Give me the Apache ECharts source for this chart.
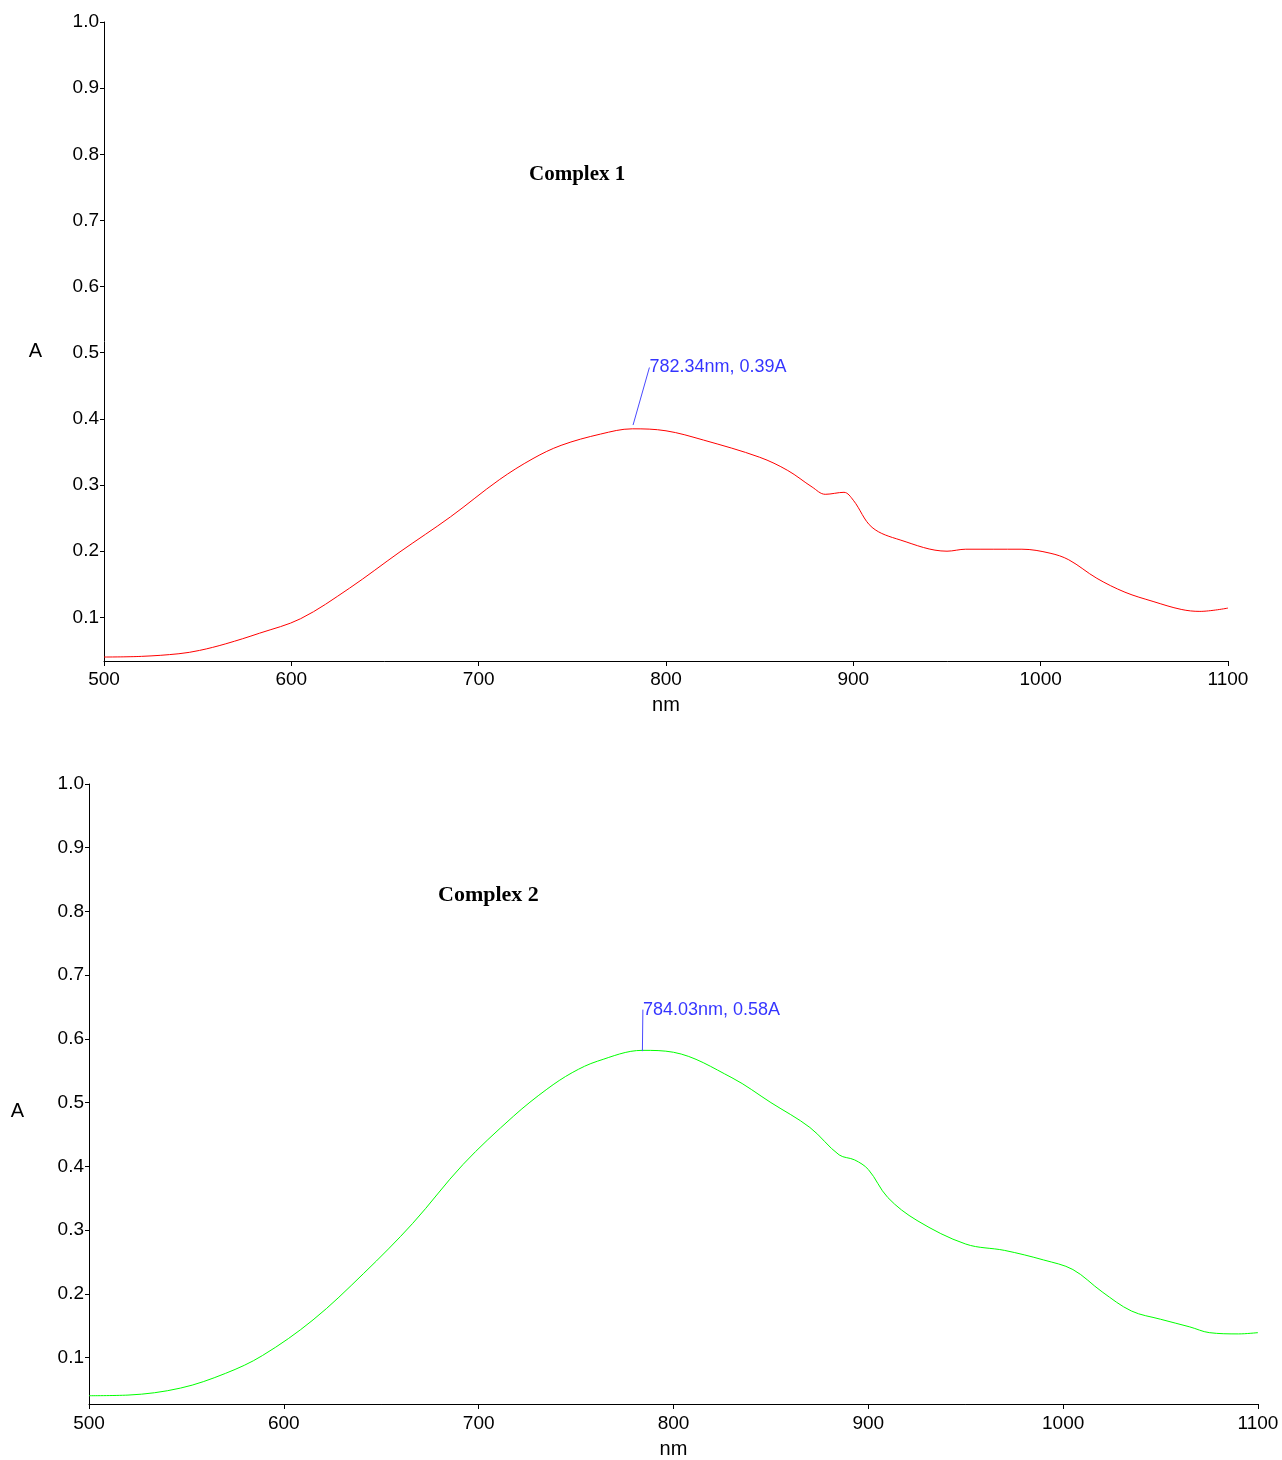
<!DOCTYPE html>
<html>
<head>
<meta charset="utf-8">
<script src="https://cdn.jsdelivr.net/npm/echarts@6/dist/echarts.min.js"></script>
<style>
  html, body { margin: 0; padding: 0; background: #fff; }
  #main { width: 1282px; height: 1460px; }
</style>
</head>
<body>
<div id="main"></div>
<script>
// Complex 1 (red) spectrum
var wave1 = [500, 520, 540, 551, 565, 583, 605, 631, 658, 685, 711, 729, 744, 765, 782, 800, 820, 850, 865, 878, 885, 895, 900, 910, 925, 950, 960, 990, 1005, 1015, 1030, 1045, 1060, 1075, 1085, 1100];
var abs1 = [0.040, 0.041, 0.045, 0.050, 0.060, 0.076, 0.098, 0.144, 0.199, 0.252, 0.308, 0.340, 0.360, 0.377, 0.385, 0.382, 0.368, 0.342, 0.322, 0.297, 0.286, 0.289, 0.277, 0.236, 0.217, 0.200, 0.203, 0.203, 0.197, 0.187, 0.159, 0.138, 0.124, 0.112, 0.109, 0.114];

// Complex 2 (green) spectrum
var wave2 = [500, 520, 547, 570, 589, 615, 641, 666, 692, 718, 735, 748, 761, 784, 800, 830, 850, 870, 885, 893, 900, 910, 925, 950, 970, 990, 1005, 1020, 1035, 1050, 1065, 1075, 1090, 1100];
var abs2 = [0.040, 0.041, 0.052, 0.075, 0.103, 0.159, 0.232, 0.310, 0.403, 0.479, 0.521, 0.547, 0.565, 0.582, 0.579, 0.539, 0.500, 0.461, 0.418, 0.410, 0.395, 0.351, 0.315, 0.278, 0.268, 0.253, 0.238, 0.203, 0.173, 0.160, 0.148, 0.139, 0.137, 0.139];

// peak annotations
var peak1 = [782.34, 0.39];
var peak2 = [784.03, 0.58];
var yTicks = [0.1, 0.2, 0.3, 0.4, 0.5, 0.6, 0.7, 0.8, 0.9, 1.0];

var chart = echarts.init(document.getElementById('main'));
var sans = '"Liberation Sans", Arial, sans-serif';
var serif = '"Liberation Serif", "Times New Roman", serif';

function mkX(idx, margin, gap) {
  return {
    type: 'value',
    gridIndex: idx,
    min: 500,
    max: 1100,
    interval: 100,
    name: 'nm',
    nameLocation: 'middle',
    nameGap: gap,
    nameTextStyle: { fontFamily: sans, fontSize: 20, color: '#000' },
    axisLine: { lineStyle: { color: '#000', width: 1 } },
    axisTick: { show: true, inside: false, length: 5, lineStyle: { color: '#000' } },
    axisLabel: {
      fontFamily: sans, fontSize: 19, color: '#000', margin: margin,
      formatter: function (v) { return String(v); }
    },
    splitLine: { show: false }
  };
}

function mkY(idx, min, gap, padTop) {
  return {
    type: 'value',
    gridIndex: idx,
    min: min,
    max: 1.0,
    name: 'A',
    nameLocation: 'middle',
    nameRotate: 0,
    nameGap: gap,
    nameTextStyle: { fontFamily: sans, fontSize: 20, color: '#000', verticalAlign: 'top', padding: [padTop, 0, 0, 0] },
    axisLine: { show: true, lineStyle: { color: '#000', width: 1 } },
    axisTick: { show: true, length: 4, customValues: yTicks, lineStyle: { color: '#000' } },
    axisLabel: {
      fontFamily: sans, fontSize: 19, color: '#000', margin: 5,
      customValues: yTicks,
      formatter: function (v) { return v.toFixed(1); }
    },
    splitLine: { show: false }
  };
}

function peakSeries(idx, pt, dx, dy) {
  return {
    type: 'scatter',
    xAxisIndex: idx,
    yAxisIndex: idx,
    data: [pt],
    symbolSize: 1,
    itemStyle: { color: 'rgba(0,0,0,0)' },
    silent: true,
    label: {
      show: true,
      position: 'right',
      distance: 0,
      fontFamily: sans,
      fontSize: 18,
      color: '#0000ff',
      formatter: function (p) {
        return p.value[0].toFixed(2) + 'nm, ' + p.value[1].toFixed(2) + 'A';
      }
    },
    labelLayout: { dx: dx, dy: dy },
    labelLine: { show: true, lineStyle: { color: '#4a4aff', width: 1 } },
    z: 5
  };
}

var option = {
  backgroundColor: '#fff',
  animation: false,
  title: [
    {
      text: 'Complex 1', left: 529, top: 164, padding: 0,
      textStyle: { fontFamily: serif, fontWeight: 'bold', fontSize: 21, color: '#000' }
    },
    {
      text: 'Complex 2', left: 438, top: 884, padding: 0,
      textStyle: { fontFamily: serif, fontWeight: 'bold', fontSize: 22, color: '#000' }
    }
  ],
  grid: [
    { left: 104, right: 54, top: 22, height: 639 },
    { left: 89, right: 24, top: 784, height: 624 }
  ],
  xAxis: [mkX(0, 9, 34), mkX(1, 10, 35)],
  yAxis: [mkY(0, 0.034, 62, 0), mkY(1, 0.027, 65, 7)],
  series: [
    {
      type: 'line',
      xAxisIndex: 0,
      yAxisIndex: 0,
      data: wave1.map(function (w, i) { return [w, abs1[i]]; }),
      smooth: 0.35,
      showSymbol: false,
      lineStyle: { color: '#ff0000', width: 1 }
    },
    {
      type: 'line',
      xAxisIndex: 1,
      yAxisIndex: 1,
      data: wave2.map(function (w, i) { return [w, abs2[i]]; }),
      smooth: 0.35,
      showSymbol: false,
      lineStyle: { color: '#00ff00', width: 1 }
    },
    peakSeries(0, peak1, 16, -58),
    peakSeries(1, peak2, 0, -42)
  ]
};

chart.setOption(option);
</script>
</body>
</html>
